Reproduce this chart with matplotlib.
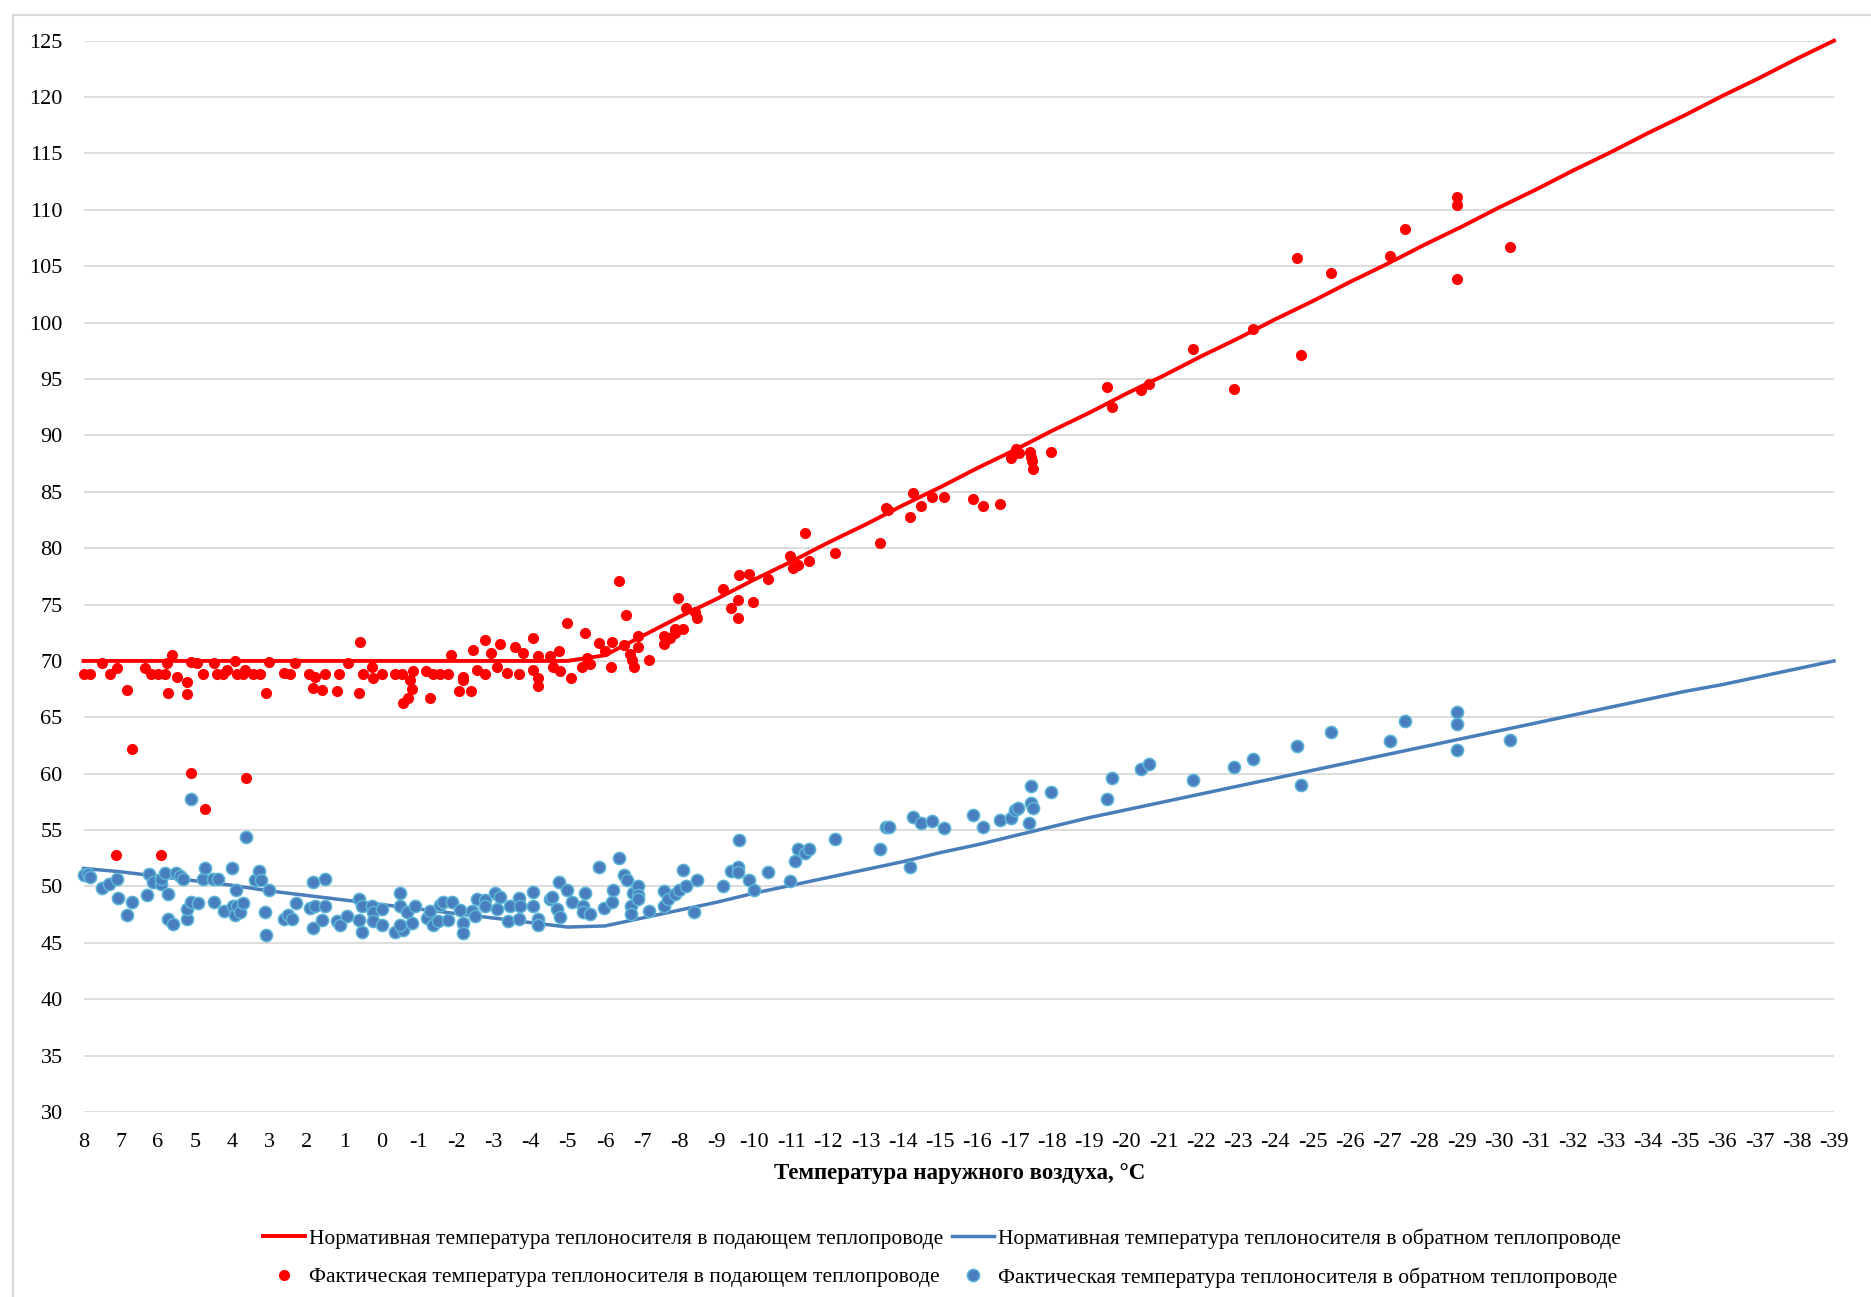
import matplotlib
matplotlib.use('Agg')
import matplotlib.pyplot as plt
from matplotlib.patches import Rectangle

plt.rcParams['font.family'] = ['Liberation Serif', 'DejaVu Serif']
plt.rcParams['axes.unicode_minus'] = False

# outdoor air temperature, deg C (category axis 8 ... -39)
t_norm = [8, 7, 6, 5, 4, 3, 2, 1, 0, -1, -2, -3, -4, -5, -6, -7, -8, -9, -10,
          -11, -12, -13, -14, -15, -16, -17, -18, -19, -20, -21, -22, -23, -24,
          -25, -26, -27, -28, -29, -30, -31, -32, -33, -34, -35, -36, -37, -38, -39]

# normative supply temperature
supply_norm = [70, 70, 70, 70, 70, 70, 70, 70, 70, 70, 70, 70, 70, 70, 70.5,
               72.2, 73.9, 75.5, 77.2, 78.8, 80.5, 82.1, 83.8, 85.4, 87.1, 88.7,
               90.4, 92.0, 93.7, 95.3, 97.0, 98.6, 100.3, 101.9, 103.6, 105.2,
               106.9, 108.5, 110.2, 111.8, 113.5, 115.1, 116.8, 118.4, 120.1,
               121.7, 123.4, 125.0]

# normative return temperature
return_norm = [51.6, 51.3, 50.9, 50.5, 50.1, 49.6, 49.2, 48.8, 48.4, 48.0, 47.6,
               47.2, 46.8, 46.4, 46.5, 47.2, 47.9, 48.6, 49.4, 50.1, 50.8, 51.5,
               52.2, 53.0, 53.7, 54.5, 55.3, 56.1, 56.8, 57.5, 58.2, 58.9, 59.6,
               60.3, 61.0, 61.7, 62.4, 63.1, 63.8, 64.5, 65.2, 65.9, 66.6, 67.3,
               67.9, 68.6, 69.3, 70.0]

# measured supply temperature
t_sup = [8.0, 7.83, 7.5, 7.3, 7.09, 6.82, 6.71, 6.35, 6.2, 6.0, 5.81, 5.72, 5.63,
         5.75, 5.5, 5.23, 5.21, 5.12, 4.96, 4.8, 4.5, 4.42, 4.25, 4.16, 3.93,
         3.89, 3.71, 3.66, 3.44, 3.26, 3.10, 3.01, 2.63, 2.46, 2.32, 1.94, 1.78,
         1.83, 1.6, 1.52, 1.2, 1.13, 0.91, 0.58, 0.59, 0.50, 0.26, 0.22, -0.01,
         -0.36, -0.54, -0.57, -0.7, -0.81, -0.77, -0.86, -1.19, -1.29, -1.39,
         -1.57, -1.8, -1.88, -2.09, -2.4, -2.2, -2.2, -2.47, -2.56, -2.78, -2.78,
         -2.93, -3.18, -3.09, -3.36, -3.59, -3.68, -3.81, -4.08, -4.06, -4.21,
         -4.21, -4.21, -4.52, -4.61, -4.79, -4.77, -4.97, -5.09, -5.38, -5.46,
         -5.51, 7.13, 5.93, 5.12, 4.74, 3.65,
         -5.6, -5.85, -6.0, -6.18, -6.16, -6.39, -6.52, -6.57, -6.67, -6.72,
         -6.78, -6.9, -6.9, -7.19, -7.59, -7.59, -7.75, -7.88, -7.88, -8.1,
         -7.97, -8.18, -8.42, -8.46, -9.18, -9.38, -9.58, -9.58, -9.61, -9.88,
         -9.98, -10.39, -10.97, -11.06, -11.19, -11.37, -11.49, -12.18, -13.39,
         -13.61, -13.55, -14.19, -14.28, -14.49, -14.77, -15.1, -15.87, -16.14,
         -16.61, -16.89, -17.05, -17.13, -17.4, -17.44, -17.46, -17.5, -17.98,
         -19.48, -19.61, -20.39, -20.61, -21.79, -22.89, -23.39, -24.58, -24.69,
         -25.5, -27.09, -27.47, -28.88, -28.88, -28.88, -30.3]
v_sup = [68.8, 68.8, 69.8, 68.8, 69.4, 67.4, 62.2, 69.4, 68.8, 68.8, 68.8, 67.2,
         70.5, 69.8, 68.6, 68.1, 67.1, 69.9, 69.8, 68.8, 69.8, 68.8, 68.8, 69.2,
         70.0, 68.8, 68.8, 69.2, 68.8, 68.8, 67.2, 69.9, 68.9, 68.8, 69.8, 68.8,
         68.6, 67.6, 67.4, 68.8, 67.3, 68.8, 69.8, 71.7, 67.2, 68.8, 69.5, 68.5,
         68.8, 68.8, 68.8, 66.3, 66.7, 67.5, 68.3, 69.1, 69.1, 66.7, 68.8, 68.8,
         68.8, 70.5, 67.3, 67.3, 68.6, 68.3, 71.0, 69.2, 68.8, 71.9, 70.7, 71.5,
         69.5, 68.9, 71.2, 68.8, 70.7, 72.0, 69.2, 70.4, 68.5, 67.8, 70.4, 69.5,
         69.1, 70.9, 73.4, 68.5, 69.5, 72.5, 70.3, 52.8, 52.8, 60.1, 56.9, 59.6,
         69.7, 71.6, 70.9, 71.7, 69.5, 77.1, 71.4, 74.1, 70.6, 70.1,
         69.5, 72.2, 71.2, 70.1, 72.2, 71.5, 72.0, 72.5, 72.8, 72.8,
         75.6, 74.7, 74.3, 73.8, 76.4, 74.7, 75.4, 73.8, 77.6, 77.7,
         75.2, 77.3, 79.3, 78.2, 78.5, 81.3, 78.9, 79.6, 80.5,
         83.4, 83.6, 82.8, 84.9, 83.7, 84.5, 84.5, 84.4, 83.7,
         83.9, 88.0, 88.8, 88.4, 88.5, 88.1, 87.7, 87.0, 88.5,
         94.3, 92.5, 94.0, 94.6, 97.7, 94.1, 99.4, 105.7, 97.1,
         104.4, 105.9, 108.3, 111.1, 110.4, 103.9, 106.7]

# measured return temperature
t_ret = [8.0, 7.87, 7.83, 7.51, 7.31, 7.11, 7.08, 6.82, 6.71, 6.3, 6.23, 6.13,
         5.93, 5.93, 5.81, 5.72, 5.72, 5.61, 5.52, 5.41, 5.32, 5.23, 5.21, 5.11,
         5.12, 4.92, 4.8, 4.74, 4.5, 4.51, 4.38, 4.23, 4.0, 3.98, 3.93, 3.89, 3.8,
         3.71, 3.91, 3.65, 3.4, 3.3, 3.24, 3.13, 3.1, 3.01, 2.63, 2.5, 2.41, 2.29,
         1.92, 1.78, 1.83, 1.52, 1.83, 1.59, 1.52, 1.2, 1.11, 0.92, 0.59, 0.53,
         0.59, 0.51, 0.26, 0.22, -0.01, 0.22, -0.01, -0.36, -0.59, -0.5, -0.5,
         -0.68, -0.81, -0.9, -0.5, -1.21, -1.3, -1.39, -1.53, -1.57, -1.64, -1.89,
         -1.8, -2.11, -2.18, -2.2, -2.42, -2.51, -2.56, -2.78, -2.78, -3.05, -3.18,
         -3.09, -3.39, -3.45, -3.68, -3.72, -3.68, -4.08, -4.08, -4.21, -4.21,
         -4.53, -4.57, -4.7, -4.79, -4.77, -4.99, -5.11, -5.42, -5.46, -5.42,
         -5.6, -5.85, -5.98, -6.18, -6.21, -6.39, -6.51, -6.58, -6.69, -6.69,
         -6.76, -6.9, -6.9, -6.9, -7.19, -7.59, -7.59, -7.7, -7.88, -8.0, -8.1,
         -8.19, -8.4, -8.46, -9.18, -9.38, -9.58, -9.58, -9.61, -9.88, -10.0,
         -10.39, -10.97, -11.09, -11.19, -11.37, -11.49, -12.18, -13.39, -13.56,
         -13.64, -14.19, -14.28, -14.49, -14.77, -15.1, -15.87, -16.14, -16.61,
         -16.89, -17.01, -17.1, -17.39, -17.43, -17.43, -17.5, -17.98,
         -19.48, -19.61, -20.39, -20.61, -21.79, -22.89, -23.39, -24.58, -24.69,
         -25.5, -27.09, -27.47, -28.88, -28.88, -28.88, -30.3]
v_ret = [51.0, 51.1, 50.8, 49.9, 50.2, 50.7, 49.0, 47.5, 48.6, 49.2, 51.1, 50.4,
         50.2, 50.7, 51.2, 49.3, 47.1, 46.7, 51.2, 50.9, 50.7, 47.1, 48.0, 57.8,
         48.6, 48.5, 50.7, 51.6, 48.6, 50.7, 50.7, 47.8, 51.6, 48.3, 47.5, 48.3, 47.7,
         48.5, 49.7, 54.4, 50.6, 51.4, 50.6, 47.7, 45.7, 49.7, 47.1, 47.5, 47.1, 48.5,
         48.1, 48.3, 50.4, 50.7, 46.3, 47.0, 48.3, 46.9, 46.6, 47.4, 48.9, 48.3,
         47.0, 46.0, 48.3, 47.7, 48.0, 46.9, 46.6, 46.0, 46.1, 49.4, 48.3,
         47.7, 46.8, 48.3, 46.6, 47.2, 47.8, 46.6, 46.9, 48.4, 48.6, 48.6,
         47.0, 47.9, 46.8, 45.9, 47.8, 47.4, 48.9, 48.8, 48.3, 49.4, 49.1,
         48.0, 46.9, 48.3, 49.0, 48.3, 47.1, 49.5, 48.3, 47.1, 46.6,
         48.9, 49.1, 48.0, 47.3, 50.4, 49.7, 48.6, 48.3, 49.4, 47.7,
         47.6, 51.7, 48.1, 48.6, 49.7, 52.5, 51.0, 50.6, 48.3, 47.6,
         49.4, 50.0, 49.2, 48.9, 47.8, 49.6, 48.3, 48.9, 49.3, 49.7, 51.5,
         50.0, 47.7, 50.6, 50.0, 51.4, 51.7, 51.3, 54.1, 50.6, 49.7,
         51.3, 50.5, 52.3, 53.3, 53.0, 53.3, 54.2, 53.3, 55.3,
         55.3, 51.7, 56.2, 55.6, 55.8, 55.2, 56.3, 55.3, 55.9,
         56.1, 56.8, 57.0, 55.6, 58.9, 57.4, 57.0, 58.4,
         57.8, 59.6, 60.4, 60.9, 59.4, 60.6, 61.3, 62.5, 59.0,
         63.7, 62.9, 64.7, 65.5, 64.4, 62.1, 63.0]

x_ticks = list(range(8, -40, -1))
y_ticks = list(range(30, 130, 5))

labels = ['Нормативная температура теплоносителя в подающем теплопроводе',
          'Нормативная температура теплоносителя в обратном теплопроводе',
          'Фактическая температура теплоносителя в подающем теплопроводе',
          'Фактическая температура теплоносителя в обратном теплопроводе']

W, H = 1871, 1297
fig = plt.figure(figsize=(W / 100, H / 100), dpi=100)

# light frame of the chart area
fig.patches.append(Rectangle((13 / W, -0.1), 1.2, 1 - 15 / H + 0.1,
                             transform=fig.transFigure, fill=False,
                             edgecolor='#d9d9d9', lw=1.5))

ax = fig.add_axes([83.5 / W, 1 - 1112 / H, (1834 - 83.5) / W, (1112 - 40.7) / H])
ax.set_xlim(8, -39)
ax.set_ylim(30, 125)
ax.set_yticks(y_ticks)
ax.set_xticks(x_ticks, labels=[str(t) for t in x_ticks])
ax.grid(axis='y', color='#d9d9d9', lw=1.3)
ax.set_axisbelow(True)
for s in ax.spines.values():
    s.set_visible(False)
ax.tick_params(axis='both', length=0, labelsize=16)
ax.tick_params(axis='x', pad=15)
ax.tick_params(axis='y', pad=15)

l1, = ax.plot(t_norm, supply_norm, color='#ff0000', lw=2.8, clip_on=False,
              solid_joinstyle='round', zorder=3)
l2, = ax.plot(t_norm, return_norm, color='#4a7ebb', lw=2.5, clip_on=False,
              solid_joinstyle='round', zorder=3)
d1, = ax.plot(t_sup, v_sup, ls='none', marker='o', ms=8, mfc='#ff0000',
              mec='#ff0000', mew=0, clip_on=False, zorder=4)
d2, = ax.plot(t_ret, v_ret, ls='none', marker='o', ms=8.8, mfc='#4a7fbf',
              mec='#5ab6d6', mew=1.1, clip_on=False, zorder=5)

fig.text(960 / W, 1 - 1174 / H, 'Температура наружного воздуха, °C',
         ha='center', va='center', fontsize=16.5, fontweight='bold')

fig.legend([l1, d1, l2, d2], [labels[0], labels[2], labels[1], labels[3]],
           ncol=2, loc='center', bbox_to_anchor=(942 / W, 1 - 1258 / H),
           frameon=False, fontsize=15.5, handlelength=1.95, handletextpad=0.2,
           columnspacing=0.4, labelspacing=0.85, borderpad=0)

fig.savefig('out.png', dpi=100)
